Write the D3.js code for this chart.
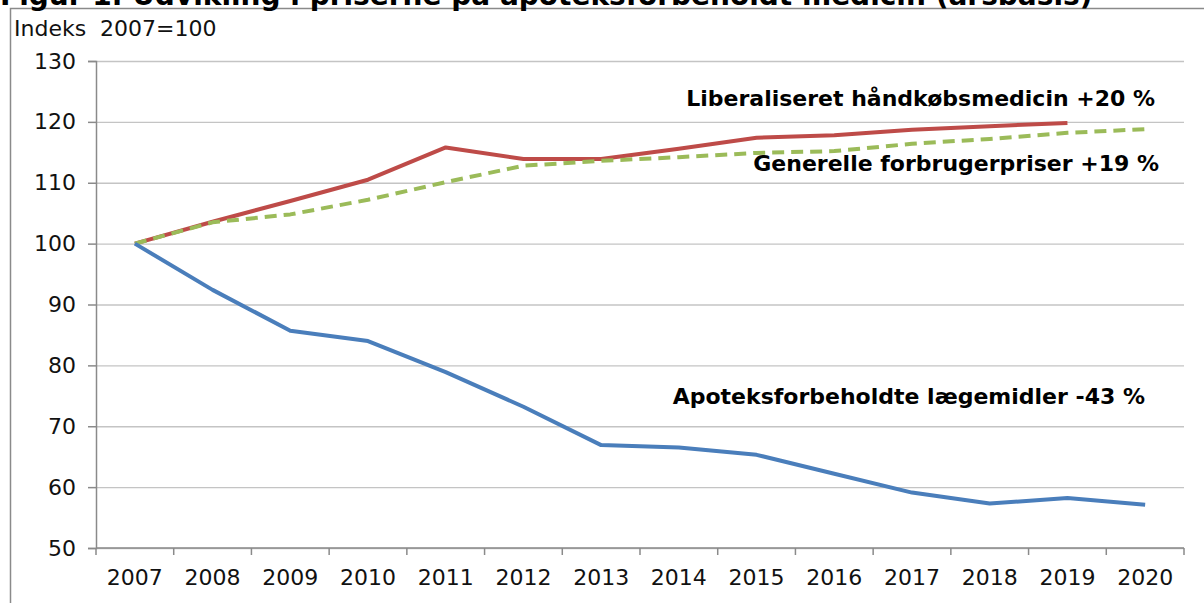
<!DOCTYPE html>
<html>
<head>
<meta charset="utf-8">
<script src="https://cdn.jsdelivr.net/npm/d3@7"></script>
<style>
  body { margin: 0; background: #fff; }
  svg { display: block; font-family: 'DejaVu Sans', Verdana, sans-serif; }
</style>
</head>
<body>
<div id="chart"></div>
<script>
// data (index 2007 = 100)
const years = ['2007', '2008', '2009', '2010', '2011', '2012', '2013',
  '2014', '2015', '2016', '2017', '2018', '2019', '2020']
const apotek = [100, 92.4, 85.7, 84.0, 78.9, 73.2, 66.9, 66.5, 65.3, 62.2, 59.1, 57.3, 58.2, 57.1]
const liberal = [100, 103.6, 107.0, 110.5, 115.8, 113.9, 113.9, 115.6, 117.4, 117.8, 118.7, 119.3, 119.8, null]
const forbrug = [100, 103.5, 104.8, 107.2, 110.1, 112.8, 113.6, 114.2, 114.9, 115.2, 116.4, 117.2, 118.2, 118.8]
const yTicks = [50, 60, 70, 80, 90, 100, 110, 120, 130]

const title = 'Figur 1. Udvikling i priserne på apoteksforbeholdt medicin (årsbasis)'
const yLabel = 'Indeks  2007=100'

const series = [
  {name: 'Liberaliseret håndkøbsmedicin +20 %', values: liberal, color: '#be4b48', dash: null, lx: 1155, ly: 106},
  {name: 'Generelle forbrugerpriser +19 %', values: forbrug, color: '#9bbb59', dash: '12,7', lx: 1159, ly: 171},
  {name: 'Apoteksforbeholdte lægemidler -43 %', values: apotek, color: '#4a7ebb', dash: null, lx: 1145, ly: 404}
]

const width = 1204
const height = 603
const plot = {left: 96, right: 1184, top: 61, bottom: 548}

const svg = d3.select('#chart').append('svg')
  .attr('width', width)
  .attr('height', height)

// outer frame (only top and left edge are visible)
svg.append('path')
  .attr('d', `M10.5,${height} V8.5 H${width}`)
  .attr('fill', 'none')
  .attr('stroke', '#8a8a8a')
  .attr('stroke-width', 1.5)

// title sits mostly above the visible area, as in the source
svg.append('text')
  .attr('x', 0)
  .attr('y', 5)
  .style('font-size', '28px')
  .style('font-weight', 'bold')
  .text(title)

svg.append('text')
  .attr('x', 14)
  .attr('y', 36)
  .style('font-size', '22px')
  .style('white-space', 'pre')
  .attr('fill', '#111')
  .text(yLabel)

const x = d3.scaleBand()
  .domain(years)
  .range([plot.left, plot.right])
  .padding(0)

const y = d3.scaleLinear()
  .domain([50, 130])
  .range([plot.bottom, plot.top])

// gridlines
svg.append('g')
  .attr('transform', `translate(${plot.left},0)`)
  .call(d3.axisLeft(y).tickValues(yTicks).tickSize(-(plot.right - plot.left)).tickFormat(''))
  .call(g => g.select('.domain').remove())
  .call(g => g.selectAll('line').attr('stroke', '#c4c4c4').attr('stroke-width', 1.3))

// y axis
svg.append('g')
  .attr('transform', `translate(${plot.left},0)`)
  .call(d3.axisLeft(y).tickValues(yTicks).tickSize(8).tickPadding(12))
  .call(g => g.select('.domain').attr('stroke', '#8a8a8a').attr('stroke-width', 1.5))
  .call(g => g.selectAll('line').attr('stroke', '#8a8a8a').attr('stroke-width', 1.5))
  .call(g => g.selectAll('text')
    .style('font-size', '22px')
    .style('font-family', "'DejaVu Sans', Verdana, sans-serif")
    .attr('fill', '#111'))

// x axis: labels centred in bands, ticks at band edges
const xAxis = svg.append('g')
  .attr('transform', `translate(0,${plot.bottom})`)
xAxis.append('line')
  .attr('x1', plot.left)
  .attr('x2', plot.right)
  .attr('stroke', '#8a8a8a')
  .attr('stroke-width', 1.5)
xAxis.selectAll('.tick')
  .data(years.map(d => x(d)).concat([plot.right]))
  .enter()
  .append('line')
  .attr('x1', d => d)
  .attr('x2', d => d)
  .attr('y1', 0)
  .attr('y2', 7)
  .attr('stroke', '#8a8a8a')
  .attr('stroke-width', 1.5)
xAxis.selectAll('.label')
  .data(years)
  .enter()
  .append('text')
  .attr('x', d => x(d) + x.bandwidth() / 2)
  .attr('y', 37)
  .attr('text-anchor', 'middle')
  .style('font-size', '22px')
  .attr('fill', '#111')
  .text(d => d)

// lines
const line = d3.line()
  .defined(d => d[1] != null)
  .x(d => x(d[0]) + x.bandwidth() / 2)
  .y(d => y(d[1]))

for (let s of series) {
  svg.append('path')
    .datum(years.map((yr, i) => [yr, s.values[i]]))
    .attr('fill', 'none')
    .attr('stroke', s.color)
    .attr('stroke-width', 4)
    .attr('stroke-linejoin', 'round')
    .attr('stroke-dasharray', s.dash)
    .attr('d', line)
}

// direct labels
svg.selectAll('.series-label')
  .data(series)
  .enter()
  .append('text')
  .attr('x', d => d.lx)
  .attr('y', d => d.ly)
  .attr('text-anchor', 'end')
  .style('font-size', '22px')
  .style('font-weight', 'bold')
  .attr('fill', '#000')
  .text(d => d.name)
</script>
</body>
</html>
